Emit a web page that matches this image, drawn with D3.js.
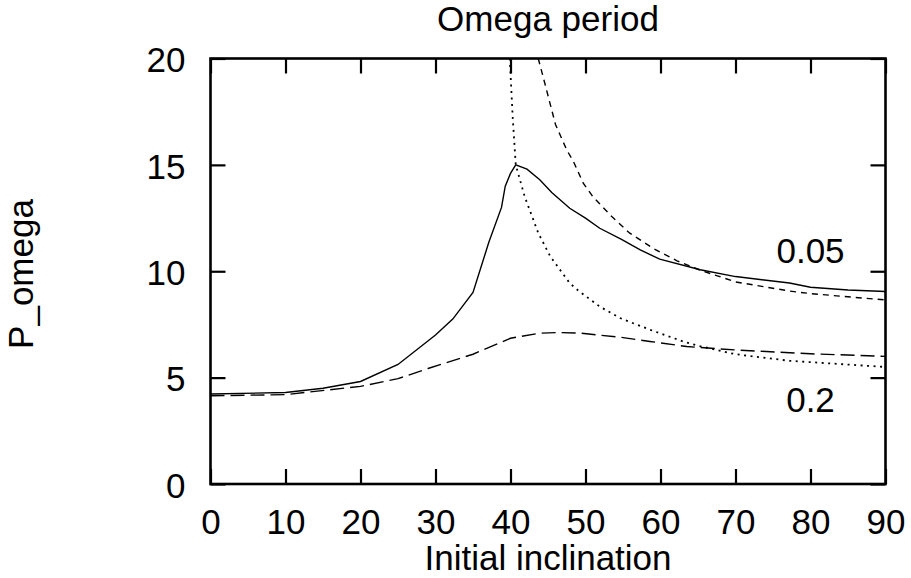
<!DOCTYPE html>
<html>
<head>
<meta charset="utf-8">
<script src="https://cdn.jsdelivr.net/npm/d3@7"></script>
<style>
  body { margin: 0; background: #fff; }
  svg text { font-family: "Liberation Sans", Arial, sans-serif; fill: #000; }
</style>
</head>
<body>
<div id="chart"></div>
<script>
// Data (x = initial inclination, y = P_omega)
const solidX = [0, 10, 15, 20, 25, 30, 32.3, 35, 37.1, 38.8, 39.3, 40, 40.7, 42.2, 43.9, 45.5, 47.9, 50, 51.9, 54.8, 57.3, 59.9, 65.3, 70, 77.2, 80, 85, 90];
const solidY = [4.23, 4.3, 4.5, 4.82, 5.62, 7.0, 7.75, 9.0, 11.35, 13.0, 14.0, 14.6, 15.0, 14.8, 14.3, 13.7, 12.96, 12.5, 12.02, 11.5, 11.0, 10.57, 10.07, 9.75, 9.45, 9.25, 9.12, 9.05];

const shortDashX = [43.7, 44.6, 46, 47.5, 48.4, 49.7, 51, 53.5, 55.9, 59, 62.2, 65.3, 70, 77.2, 80, 90];
const shortDashY = [20, 18.8, 16.9, 15.7, 15.15, 14.14, 13.5, 12.57, 11.79, 11.08, 10.49, 10.05, 9.5, 9.07, 8.95, 8.65];

const dottedX = [39.9, 40.3, 40.7, 41.9, 43.7, 45.3, 47.9, 49, 51.9, 54.6, 58.6, 63, 65, 70, 77.2, 90];
const dottedY = [20, 17.2, 15.0, 13.5, 11.8, 10.7, 9.44, 9.1, 8.34, 7.8, 7.25, 6.7, 6.5, 6.1, 5.79, 5.5];

const longDashX = [0, 10, 20, 25, 29, 35, 40, 43.9, 46.4, 49.3, 54.6, 58.6, 63.5, 70, 80, 90];
const longDashY = [4.15, 4.2, 4.59, 4.95, 5.43, 6.1, 6.85, 7.09, 7.12, 7.09, 6.9, 6.7, 6.46, 6.3, 6.12, 6.0];

const xTicks = [0, 10, 20, 30, 40, 50, 60, 70, 80, 90];
const yTicks = [0, 5, 10, 15, 20];

const labelText = ["0.05", "0.2"];
const labelX = [80, 80];
const labelY = [10.4, 3.4];

// Set dimensions and margins for the chart
const margin = { top: 58.5, right: 25.5, bottom: 94, left: 210.5 };
const width = 911 - margin.left - margin.right;
const height = 578 - margin.top - margin.bottom;
const fontSize = 35;

const x = d3.scaleLinear().domain([0, 90]).range([0, width]);
const y = d3.scaleLinear().domain([0, 20]).range([height, 0]);

const svg = d3.select("#chart")
  .append("svg")
  .attr("width", 911)
  .attr("height", 578)
  .append("g")
  .attr("transform", `translate(${margin.left},${margin.top})`);

svg.append("clipPath")
  .attr("id", "plot-clip")
  .append("rect")
  .attr("width", width)
  .attr("height", height);

// Axes with inward ticks on all four sides
const xBottom = svg.append("g")
  .attr("transform", `translate(0,${height})`)
  .call(d3.axisBottom(x).tickValues(xTicks).tickSize(-15).tickPadding(25));

const xTop = svg.append("g")
  .call(d3.axisTop(x).tickValues(xTicks).tickSize(-15).tickFormat(""));

const yLeft = svg.append("g")
  .call(d3.axisLeft(y).tickValues(yTicks).tickSize(-15).tickPadding(25));

const yRight = svg.append("g")
  .attr("transform", `translate(${width},0)`)
  .call(d3.axisRight(y).tickValues(yTicks).tickSize(-15).tickFormat(""));

[xBottom, xTop, yLeft, yRight].forEach(g => {
  g.select(".domain").remove();
  g.selectAll(".tick line").attr("stroke", "#000").attr("stroke-width", 2.2);
  g.selectAll(".tick text")
    .style("font-size", fontSize + "px")
    .style("font-family", "'Liberation Sans', Arial, sans-serif")
    .attr("fill", "#000");
});
yLeft.selectAll(".tick text").attr("dy", "0.38em");

// Frame
svg.append("rect")
  .attr("width", width)
  .attr("height", height)
  .attr("fill", "none")
  .attr("stroke", "#000")
  .attr("stroke-width", 2.6);

// Curves
const series = [
  { xs: solidX, ys: solidY, dash: null, w: 1.4 },
  { xs: shortDashX, ys: shortDashY, dash: "6,5", w: 1.4 },
  { xs: dottedX, ys: dottedY, dash: "2,4.5", w: 1.8 },
  { xs: longDashX, ys: longDashY, dash: "14,6", w: 1.4 }
];

const line = d3.line()
  .x(d => x(d[0]))
  .y(d => y(d[1]));

const curves = svg.append("g").attr("clip-path", "url(#plot-clip)");
series.forEach(s => {
  curves.append("path")
    .datum(d3.zip(s.xs, s.ys))
    .attr("fill", "none")
    .attr("stroke", "#000")
    .attr("stroke-width", s.w)
    .attr("stroke-dasharray", s.dash)
    .attr("d", line);
});

// Curve labels
svg.selectAll(".curve-label")
  .data(labelText)
  .join("text")
  .attr("class", "curve-label")
  .attr("x", (d, i) => x(labelX[i]))
  .attr("y", (d, i) => y(labelY[i]))
  .attr("text-anchor", "middle")
  .style("font-size", fontSize + "px")
  .text(d => d);

// Title
svg.append("text")
  .attr("x", width / 2)
  .attr("y", 30.7 - margin.top)
  .attr("text-anchor", "middle")
  .style("font-size", fontSize + "px")
  .text("Omega period");

// X-axis label
svg.append("text")
  .attr("x", width / 2)
  .attr("y", height + 86)
  .attr("text-anchor", "middle")
  .style("font-size", fontSize + "px")
  .text("Initial inclination");

// Y-axis label
svg.append("text")
  .attr("transform", `translate(${33 - margin.left},${274 - margin.top}) rotate(-90)`)
  .attr("text-anchor", "middle")
  .style("font-size", fontSize + "px")
  .text("P_omega");
</script>
</body>
</html>
